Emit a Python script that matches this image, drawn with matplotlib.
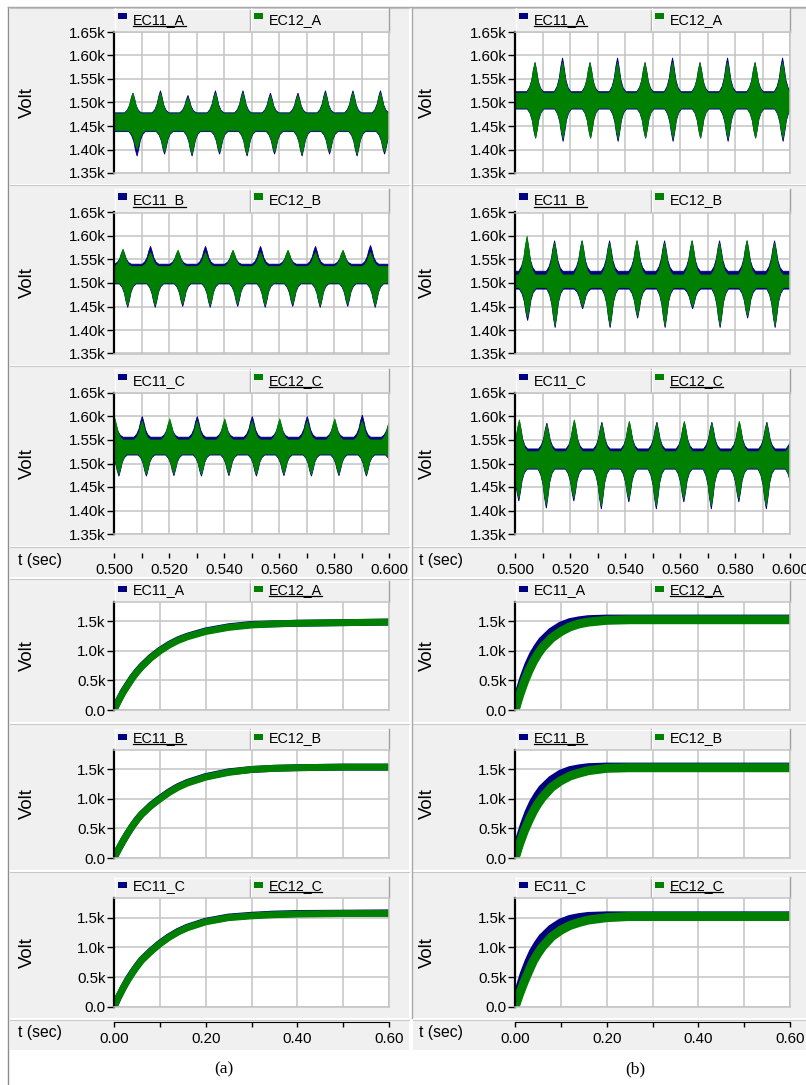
import matplotlib.pyplot as plt
from matplotlib.patches import Rectangle
from matplotlib.ticker import FixedLocator, FuncFormatter, MultipleLocator

plt.rcParams['font.family'] = ['Liberation Sans', 'DejaVu Sans']

W, H = 806, 1085
BLUE = '#000080'
GREEN = '#008000'
PANEL = '#f0f0f0'
GRID = '#c4c4c4'

# ---------------- steady state window 0.5 - 0.6 s (kV) ----------------
# every 10 ms the ripple band has a burst; shape of a burst around its centre
spike_off = [-3.0, -2.0, -1.2, -0.6, 0.0, 0.6, 1.2, 2.0, 3.0]      # ms
spike_frac = [0.0, 0.15, 0.4, 0.75, 1.0, 0.7, 0.35, 0.12, 0.0]

# (a) phase A
aA_phase = (6.9, 8.4)                      # burst centre of upper / lower edge, ms
aA_green_base = (1.440, 1.476)
aA_green_peak = [1.52, 1.52, 1.51, 1.52, 1.52, 1.515, 1.515, 1.52, 1.52, 1.52, 1.52]
aA_green_trough = [1.40, 1.395, 1.39, 1.395, 1.39, 1.395, 1.39, 1.395, 1.39, 1.395, 1.39]
aA_blue_base = (1.438, 1.478)
aA_blue_peak = [1.52, 1.525, 1.515, 1.525, 1.525, 1.52, 1.52, 1.525, 1.525, 1.525, 1.52]
aA_blue_trough = [1.386, 1.39, 1.386, 1.39, 1.386, 1.39, 1.386, 1.39, 1.386, 1.39, 1.386]

# (a) phase B
aB_phase = (3.3, 5.0)
aB_green_base = (1.500, 1.535)
aB_green_peak = [1.572, 1.565, 1.57, 1.565, 1.57, 1.565, 1.57, 1.565, 1.57, 1.565, 1.57]
aB_green_trough = [1.452, 1.452, 1.455, 1.452, 1.455, 1.452, 1.455, 1.452, 1.455, 1.452, 1.455]
aB_blue_base = (1.498, 1.540)
aB_blue_peak = [1.57, 1.578, 1.568, 1.578, 1.568, 1.578, 1.568, 1.578, 1.568, 1.58, 1.57]
aB_blue_trough = [1.448, 1.448, 1.45, 1.448, 1.45, 1.448, 1.45, 1.448, 1.45, 1.448, 1.45]

# (a) phase C
aC_phase = (0.3, 1.8)
aC_green_base = (1.520, 1.550)
aC_green_peak = [1.597, 1.59, 1.595, 1.59, 1.595, 1.59, 1.595, 1.59, 1.595, 1.59, 1.59]
aC_green_trough = [1.477, 1.477, 1.478, 1.477, 1.478, 1.477, 1.478, 1.477, 1.478, 1.477, 1.478]
aC_blue_base = (1.518, 1.556)
aC_blue_peak = [1.59, 1.60, 1.59, 1.60, 1.59, 1.60, 1.59, 1.60, 1.59, 1.603, 1.59]
aC_blue_trough = [1.473, 1.473, 1.474, 1.473, 1.474, 1.473, 1.474, 1.473, 1.474, 1.473, 1.474]

# (b) phase A
bA_phase = (7.3, 7.5)
bA_green_base = (1.488, 1.520)
bA_green_peak = [1.585, 1.585, 1.585, 1.585, 1.585, 1.585, 1.585, 1.585, 1.585, 1.585, 1.585]
bA_green_trough = [1.424, 1.424, 1.424, 1.424, 1.424, 1.424, 1.424, 1.424, 1.424, 1.424, 1.424]
bA_blue_base = (1.486, 1.523)
bA_blue_peak = [1.585, 1.595, 1.585, 1.595, 1.585, 1.595, 1.585, 1.595, 1.585, 1.595, 1.585]
bA_blue_trough = [1.424, 1.417, 1.424, 1.417, 1.424, 1.417, 1.424, 1.417, 1.424, 1.417, 1.424]

# (b) phase B
bB_phase = (4.4, 4.6)
bB_green_base = (1.490, 1.517)
bB_green_peak = [1.60, 1.585, 1.59, 1.585, 1.59, 1.585, 1.59, 1.585, 1.59, 1.585, 1.59]
bB_green_trough = [1.428, 1.41, 1.45, 1.41, 1.43, 1.41, 1.45, 1.41, 1.43, 1.41, 1.43]
bB_blue_base = (1.487, 1.525)
bB_blue_peak = [1.595, 1.59, 1.59, 1.59, 1.59, 1.59, 1.59, 1.59, 1.59, 1.59, 1.59]
bB_blue_trough = [1.42, 1.405, 1.445, 1.405, 1.425, 1.405, 1.445, 1.405, 1.425, 1.405, 1.425]

# (b) phase C
bC_phase = (1.6, 1.4)
bC_green_base = (1.490, 1.525)
bC_green_peak = [1.593, 1.582, 1.593, 1.585, 1.59, 1.585, 1.59, 1.585, 1.59, 1.585, 1.59]
bC_green_trough = [1.427, 1.412, 1.427, 1.41, 1.425, 1.41, 1.425, 1.41, 1.425, 1.41, 1.42]
bC_blue_base = (1.488, 1.531)
bC_blue_peak = [1.59, 1.586, 1.59, 1.588, 1.588, 1.588, 1.588, 1.588, 1.588, 1.588, 1.588]
bC_blue_trough = [1.42, 1.405, 1.42, 1.403, 1.418, 1.403, 1.418, 1.403, 1.418, 1.403, 1.413]

# ---------------- start-up 0 - 0.6 s (kV) ----------------
t_step = [0, 0.01, 0.02, 0.03, 0.04, 0.05, 0.06, 0.08, 0.10, 0.12, 0.14, 0.16,
          0.20, 0.25, 0.30, 0.35, 0.40, 0.50, 0.60]
aA_step_blue = [0, 0.16, 0.31, 0.43, 0.55, 0.65, 0.74, 0.89, 1.01, 1.11, 1.19, 1.25,
                1.34, 1.41, 1.45, 1.46, 1.47, 1.48, 1.49]
aA_step_green = [0, 0.16, 0.30, 0.42, 0.54, 0.64, 0.73, 0.88, 1.00, 1.10, 1.18, 1.24,
                 1.33, 1.40, 1.44, 1.46, 1.47, 1.48, 1.49]
aB_step_blue = [0, 0.15, 0.29, 0.42, 0.54, 0.65, 0.74, 0.89, 1.01, 1.12, 1.21, 1.28,
                1.38, 1.46, 1.50, 1.52, 1.53, 1.54, 1.54]
aB_step_green = [0, 0.15, 0.29, 0.42, 0.54, 0.64, 0.74, 0.88, 1.00, 1.11, 1.20, 1.27,
                 1.37, 1.45, 1.50, 1.52, 1.53, 1.54, 1.54]
aC_step_blue = [0, 0.17, 0.32, 0.46, 0.58, 0.69, 0.79, 0.94, 1.07, 1.18, 1.27, 1.34,
                1.44, 1.51, 1.54, 1.56, 1.57, 1.575, 1.58]
aC_step_green = [0, 0.17, 0.32, 0.45, 0.57, 0.68, 0.78, 0.93, 1.06, 1.17, 1.26, 1.33,
                 1.43, 1.50, 1.53, 1.55, 1.56, 1.57, 1.57]
bA_step_blue = [0, 0.30, 0.55, 0.76, 0.93, 1.06, 1.17, 1.32, 1.42, 1.48, 1.51, 1.53,
                1.54, 1.54, 1.54, 1.54, 1.54, 1.54, 1.54]
bA_step_green = [0, 0.25, 0.47, 0.66, 0.82, 0.95, 1.06, 1.22, 1.33, 1.41, 1.46, 1.49,
                 1.52, 1.53, 1.53, 1.53, 1.53, 1.53, 1.53]
bB_step_blue = [0, 0.30, 0.55, 0.76, 0.93, 1.06, 1.17, 1.32, 1.42, 1.48, 1.51, 1.53,
                1.54, 1.54, 1.54, 1.54, 1.54, 1.54, 1.54]
bB_step_green = [0, 0.24, 0.45, 0.63, 0.79, 0.92, 1.03, 1.20, 1.31, 1.39, 1.44, 1.48,
                 1.52, 1.53, 1.53, 1.53, 1.53, 1.53, 1.53]
bC_step_blue = [0, 0.30, 0.55, 0.75, 0.92, 1.05, 1.16, 1.31, 1.41, 1.47, 1.50, 1.52,
                1.53, 1.53, 1.53, 1.53, 1.53, 1.53, 1.53]
bC_step_green = [0, 0.22, 0.42, 0.60, 0.77, 0.90, 1.01, 1.18, 1.29, 1.37, 1.42, 1.46,
                 1.50, 1.52, 1.52, 1.52, 1.52, 1.52, 1.52]

phases = ['A', 'B', 'C']
zoom_cols = [
    [(aA_phase, aA_green_base, aA_green_peak, aA_green_trough, aA_blue_base, aA_blue_peak, aA_blue_trough),
     (aB_phase, aB_green_base, aB_green_peak, aB_green_trough, aB_blue_base, aB_blue_peak, aB_blue_trough),
     (aC_phase, aC_green_base, aC_green_peak, aC_green_trough, aC_blue_base, aC_blue_peak, aC_blue_trough)],
    [(bA_phase, bA_green_base, bA_green_peak, bA_green_trough, bA_blue_base, bA_blue_peak, bA_blue_trough),
     (bB_phase, bB_green_base, bB_green_peak, bB_green_trough, bB_blue_base, bB_blue_peak, bB_blue_trough),
     (bC_phase, bC_green_base, bC_green_peak, bC_green_trough, bC_blue_base, bC_blue_peak, bC_blue_trough)],
]
step_cols = [
    [(aA_step_blue, aA_step_green), (aB_step_blue, aB_step_green), (aC_step_blue, aC_step_green)],
    [(bA_step_blue, bA_step_green), (bB_step_blue, bB_step_green), (bC_step_blue, bC_step_green)],
]
# which legend entry is underlined in each graph
top_underline = [0, 0, 1]
bot_underline = [1, 0, 1]

# ---------------- layout (pixels) ----------------
col_plot_x = [(114, 389), (515, 790)]
col_bg_x = [(10, 409), (413, 806)]
top_plot_y = [(32, 173), (212.5, 353.5), (393, 534)]
top_bg_y = [(8, 184), (185, 365), (366, 546)]
top_strip_y = (547, 577)
bot_plot_y = [(602, 710), (750, 858), (898, 1007)]
bot_bg_y = [(579, 722), (724, 870), (872, 1018)]
bot_strip_y = (1020, 1050)


def px(x0, y0, x1, y1):
    return [x0 / W, 1 - y1 / H, (x1 - x0) / W, (y1 - y0) / H]


def envelope(phase_ms, base, peaks):
    # flat band before the first burst, then one burst every 10 ms
    xs, ys = [0.49], [base]
    for k, pk in enumerate(peaks):
        c = 0.5 + (10 * k + phase_ms) / 1000
        for off, f in zip(spike_off, spike_frac):
            xs.append(c + off / 1000)
            ys.append(base + (pk - base) * f)
    xs.append(0.62)
    ys.append(base)
    return xs, ys


def band(ax, phase, base, peak, trough, color):
    xu, yu = envelope(phase[0], base[1], peak)
    xl, yl = envelope(phase[1], base[0], trough)
    ax.fill(xu + xl[::-1], yu + yl[::-1], color=color, lw=0.6, ec=color)


def kfmt(nd):
    def f(v, pos):
        if abs(v) < 1e-9:
            return '0.0'
        return f'{v:.{nd}f}k'
    return FuncFormatter(f)


def header(bg, x0, x1, ytop, ybot, phase, sel):
    split = x0 + 136
    names = [f'EC11_{phase}', f'EC12_{phase}']
    colors = [BLUE, GREEN]
    for i, (cx0, cx1) in enumerate([(x0, split), (split, x1)]):
        bg.add_patch(Rectangle((cx0, ytop), cx1 - cx0, ybot - ytop, fc=PANEL, ec='none'))
        bg.plot([cx0, cx1], [ytop + 0.5, ytop + 0.5], color='white', lw=1)
        bg.plot([cx0 + 0.5, cx0 + 0.5], [ytop, ybot], color='white', lw=1)
        bg.plot([cx1 - 0.5, cx1 - 0.5], [ytop, ybot], color='#a0a0a0', lw=1)
        bg.add_patch(Rectangle((cx0 + 4, ytop + 4.8), 9, 6.3, fc=colors[i], ec='none'))
        base_y = ybot - 8
        bg.text(cx0 + 19, base_y, names[i], fontsize=10.3, va='baseline', ha='left')
        if i == sel:
            bg.plot([cx0 + 19, cx0 + 72], [base_y + 2, base_y + 2], color='black', lw=0.9)


def style_plot(ax, ylim, yticks, nd, xstep):
    ax.set_ylim(*ylim)
    ax.yaxis.set_major_locator(FixedLocator(yticks))
    ax.yaxis.set_major_formatter(kfmt(nd))
    ax.xaxis.set_major_locator(MultipleLocator(xstep))
    ax.tick_params(axis='x', length=0, labelbottom=False)
    ax.tick_params(axis='y', direction='out', length=5, width=1, pad=1, labelsize=10.8, color='black')
    ax.grid(True, color=GRID, lw=1.1)
    ax.set_axisbelow(True)
    for side in ['top', 'right', 'bottom']:
        ax.spines[side].set_color(GRID)
        ax.spines[side].set_linewidth(1.1)
    ax.spines['left'].set_color('black')
    ax.spines['left'].set_linewidth(1.6)


def time_strip(bg, x0, x1, ys, xlim, major, minor, fmt, y_text):
    ax = fig.add_axes(px(x0, ys, x1, ys + 0.5))
    ax.set_xlim(*xlim)
    ax.set_yticks([])
    for side in ['top', 'right', 'left', 'bottom']:
        ax.spines[side].set_visible(False)
    ax.xaxis.set_major_locator(MultipleLocator(major))
    ax.xaxis.set_minor_locator(MultipleLocator(minor))
    ax.xaxis.set_major_formatter(FuncFormatter(lambda v, p: fmt.format(v)))
    ax.tick_params(axis='x', which='both', direction='out', length=3.6, width=1, color='black')
    ax.tick_params(axis='x', which='major', labelsize=10.8, pad=3.5)
    ax.patch.set_alpha(0)
    bg.text(18 if x0 < 400 else 419, y_text, 't (sec)', fontsize=11.3, va='center', ha='left')
    return ax


fig = plt.figure(figsize=(W / 100, H / 100), dpi=100)
bg = fig.add_axes([0, 0, 1, 1])
bg.set_xlim(0, W)
bg.set_ylim(H, 0)
bg.axis('off')

for c in range(2):
    bx0, bx1 = col_bg_x[c]
    x0, x1 = col_plot_x[c]
    for y0, y1 in top_bg_y + [top_strip_y] + bot_bg_y + [bot_strip_y]:
        bg.add_patch(Rectangle((bx0, y0), bx1 - bx0, y1 - y0, fc=PANEL, ec='none'))
        bg.plot([bx0, bx1], [y0, y0], color='#c8c8c8', lw=0.8)

    # zoomed window
    for r in range(3):
        py0, py1 = top_plot_y[r]
        header(bg, x0, x1, py0 - 24, py0, phases[r], top_underline[r])
        bg.text(bx0 + 17 if c == 0 else bx0 + 14, (py0 + py1) / 2, 'Volt', rotation=90,
                fontsize=13.4, ha='center', va='center')
        ax = fig.add_axes(px(x0, py0, x1, py1))
        ax.set_xlim(0.5, 0.6)
        style_plot(ax, (1.35, 1.65), [1.35, 1.40, 1.45, 1.50, 1.55, 1.60, 1.65], 2, 0.01)
        phase, gbase, gpk, gtr, bbase, bpk, btr = zoom_cols[c][r]
        band(ax, phase, bbase, bpk, btr, BLUE)
        band(ax, phase, gbase, gpk, gtr, GREEN)
    time_strip(bg, x0, x1, 552.5, (0.5, 0.6), 0.02, 0.01, '{:.3f}', 560)

    # start-up
    for r in range(3):
        py0, py1 = bot_plot_y[r]
        header(bg, x0, x1, py0 - 21, py0, phases[r], bot_underline[r])
        bg.text(bx0 + 17 if c == 0 else bx0 + 14, (py0 + py1) / 2, 'Volt', rotation=90,
                fontsize=13.4, ha='center', va='center')
        ax = fig.add_axes(px(x0, py0, x1, py1))
        ax.set_xlim(0, 0.6)
        style_plot(ax, (0, 1.83), [0, 0.5, 1.0, 1.5], 1, 0.1)
        blue, green = step_cols[c][r]
        lw = 5.0 if c == 0 else 6.5
        ax.plot(t_step, blue, color=BLUE, lw=lw, solid_joinstyle='miter')
        ax.plot(t_step, green, color=GREEN, lw=lw, solid_joinstyle='miter')
    strip = time_strip(bg, x0, x1, 1021.5, (0, 0.6), 0.2, 0.1, '{:.2f}', 1032)
    strip.spines['bottom'].set_visible(True)
    strip.spines['bottom'].set_linewidth(0.8)

# outer frame lines
bg.plot([8, 8], [7, H], color='#8c8c8c', lw=1)
bg.plot([8, W], [7, 7], color='#a8a8a8', lw=1)
bg.plot([412, 412], [7, 1018], color='#a8a8a8', lw=1)

bg.text(224, 1069, '(a)', fontsize=12.5, family='Liberation Serif', ha='center', va='center')
bg.text(635, 1069, '(b)', fontsize=12.5, family='Liberation Serif', ha='center', va='center')

fig.savefig('out.png', dpi=100)
